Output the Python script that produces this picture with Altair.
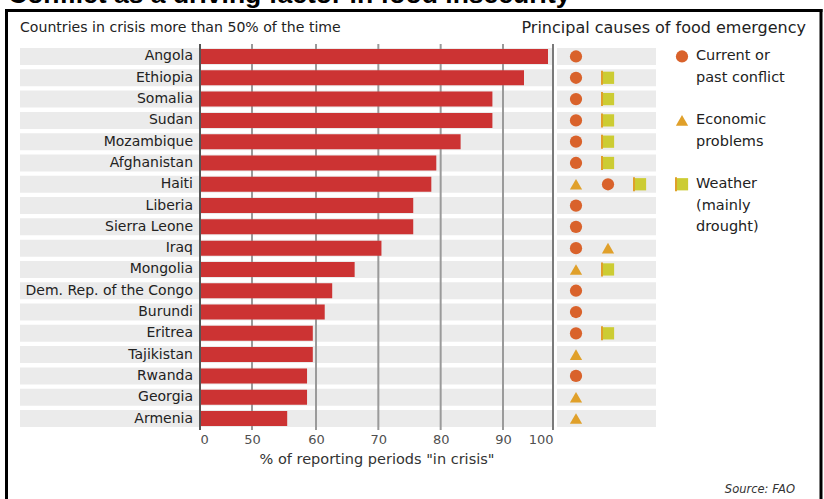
import altair as alt
import pandas as pd

countries = ["Angola", "Ethiopia", "Somalia", "Sudan", "Mozambique", "Afghanistan",
             "Haiti", "Liberia", "Sierra Leone", "Iraq", "Mongolia",
             "Dem. Rep. of the Congo", "Burundi", "Eritrea", "Tajikistan",
             "Rwanda", "Georgia", "Armenia"]
pct_in_crisis = [99.0, 94.2, 88.3, 88.3, 83.2, 79.3, 78.5, 75.6, 75.6, 70.5, 66.2,
                 62.6, 61.4, 59.5, 59.5, 58.6, 58.6, 55.5]
causes = [["conflict"], ["conflict", "weather"], ["conflict", "weather"],
          ["conflict", "weather"], ["conflict", "weather"], ["conflict", "weather"],
          ["economic", "conflict", "weather"], ["conflict"], ["conflict"],
          ["conflict", "economic"], ["economic", "weather"], ["conflict"], ["conflict"],
          ["conflict", "weather"], ["economic"], ["conflict"], ["economic"], ["economic"]]
tick_values = [0, 50, 60, 70, 80, 90, 100]
grid_values = [50, 60, 70, 80, 90]
cause_names = ["conflict", "economic", "weather"]
legend_rows = ["Angola", "Sudan", "Haiti"]
legend_lines = [("Angola", "Current or"), ("Ethiopia", "past conflict"),
                ("Sudan", "Economic"), ("Mozambique", "problems"),
                ("Haiti", "Weather"), ("Liberia", "(mainly"), ("Sierra Leone", "drought)")]

FONT = "DejaVu Sans"
RED = "#cc3333"
SHAPE_COLORS = ["#d9622b", "#e0a02a", "#cccc33"]

bars_df = pd.DataFrame({"country": countries, "pct": pct_in_crisis})
cause_rows = []
for c, lst in zip(countries, causes):
    for i, cause in enumerate(lst):
        cause_rows.append({"country": c, "cause": cause, "col": i + 1})
cause_df = pd.DataFrame(cause_rows)
grid_df = pd.DataFrame({"pct": grid_values})
leg_sym_df = pd.DataFrame({"country": legend_rows, "cause": cause_names})
leg_txt_df = pd.DataFrame(legend_lines, columns=["country", "text"])

y_enc = alt.Y("country:N", sort=countries, axis=None,
              scale=alt.Scale(range=[45.85, 429.15], paddingInner=0.2, paddingOuter=0.1))
x_scale = alt.Scale(domain=[0, 50, 60, 90, 100], range=[200, 252, 316, 503, 553])
shape_scale = alt.Scale(domain=cause_names, range=["circle", "triangle-up", "square"])
color_scale = alt.Scale(domain=cause_names, range=SHAPE_COLORS)

base = alt.Chart(bars_df)

bg_left = base.mark_bar(color="#ebebeb", size=17).encode(
    y=y_enc, x=alt.value(20), x2=alt.value(553))
bg_right = base.mark_bar(color="#ebebeb", size=17).encode(
    y=y_enc, x=alt.value(557), x2=alt.value(656))

x_axis = alt.Axis(values=tick_values, grid=False, domain=False, ticks=False,
                  labelFont=FONT, labelFontSize=13, labelColor="#505050",
                  labelPadding=3, title='% of reporting periods "in crisis"',
                  titleFont=FONT, titleFontSize=14.5, titleFontWeight="normal",
                  titleColor="#333", titlePadding=6)

grid = alt.Chart(grid_df).mark_rule(color="#9a9a9a", strokeWidth=2).encode(
    x=alt.X("pct:Q", scale=x_scale, axis=x_axis), y=alt.value(44), y2=alt.value(430))

bars = base.mark_bar(color=RED, size=15).encode(
    y=y_enc, x=alt.X("pct:Q", scale=x_scale, axis=x_axis))

zero_line = alt.Chart(pd.DataFrame({"pct": [0]})).mark_rule(color="#555", strokeWidth=2).encode(
    x=alt.X("pct:Q", scale=x_scale, axis=x_axis), y=alt.value(44), y2=alt.value(430))
hundred_line = alt.Chart(pd.DataFrame({"pct": [100]})).mark_rule(color="#7a7a7a", strokeWidth=2).encode(
    x=alt.X("pct:Q", scale=x_scale, axis=x_axis), y=alt.value(44), y2=alt.value(430))

bar_part = alt.layer(grid, bars, zero_line, hundred_line)

col_scale = alt.Scale(domain=[1, 3], range=[576, 640])
symbols = alt.Chart(cause_df).mark_point(filled=True, size=150, opacity=1).encode(
    y=y_enc,
    x=alt.X("col:Q", scale=col_scale, axis=None),
    shape=alt.Shape("cause:N", scale=shape_scale, legend=None),
    color=alt.Color("cause:N", scale=color_scale, legend=None),
)
stripes = alt.Chart(cause_df).transform_filter(alt.datum.cause == "weather").mark_tick(
    orient="vertical", thickness=2, size=14, xOffset=-6, color="#e0a02a", opacity=1).encode(
    y=y_enc, x=alt.X("col:Q", scale=col_scale, axis=None))
cause_part = alt.layer(symbols, stripes)

labels = base.mark_text(align="right", baseline="middle", font=FONT, fontSize=14,
                        color="#222").encode(y=y_enc, x=alt.value(193), text="country:N")

leg_sym = alt.Chart(leg_sym_df).mark_point(filled=True, size=150, opacity=1).encode(
    y=y_enc, x=alt.value(682),
    shape=alt.Shape("cause:N", scale=shape_scale, legend=None),
    color=alt.Color("cause:N", scale=color_scale, legend=None),
)
leg_stripe = alt.Chart(leg_sym_df).transform_filter(alt.datum.cause == "weather").mark_tick(
    orient="vertical", thickness=2, size=14, xOffset=-6, color="#e0a02a", opacity=1).encode(
    y=y_enc, x=alt.value(682))
leg_txt = alt.Chart(leg_txt_df).mark_text(align="left", baseline="middle", font=FONT,
                                          fontSize=14.5, color="#222").encode(
    y=y_enc, x=alt.value(696), text="text:N")

def text_at(s, x, y, **kw):
    return alt.Chart(pd.DataFrame({"t": [s]})).mark_text(**kw).encode(
        x=alt.value(x), y=alt.value(y), text="t:N")

title = text_at("Conflict as a driving factor in food insecurity", 8, 3,
                align="left", baseline="alphabetic", font="Liberation Sans",
                fontSize=26.5, fontWeight="bold", color="#000")
head_left = text_at("Countries in crisis more than 50% of the time", 20, 28,
                    align="left", baseline="middle", font=FONT, fontSize=14.1, color="#222")
head_right = text_at("Principal causes of food emergency", 806, 28,
                     align="right", baseline="middle", font=FONT, fontSize=16, color="#222")
source = text_at("Source: FAO", 795, 490, align="right", baseline="middle", font=FONT,
                 fontSize=11.5, fontStyle="italic", color="#333")

one = pd.DataFrame({"t": [0]})
frame_left = alt.Chart(one).mark_rule(color="#000", strokeWidth=3).encode(
    x=alt.value(6.5), y=alt.value(9), y2=alt.value(499))
frame_right = alt.Chart(one).mark_rule(color="#000", strokeWidth=3).encode(
    x=alt.value(821), y=alt.value(9), y2=alt.value(499))
frame_top = alt.Chart(one).mark_rule(color="#000", strokeWidth=3).encode(
    x=alt.value(5), x2=alt.value(822.5), y=alt.value(10.5))

chart = alt.layer(
    bg_left, bg_right, bar_part, labels, cause_part,
    leg_sym, leg_stripe, leg_txt,
    title, head_left, head_right, source, frame_left, frame_right, frame_top,
).resolve_scale(x="independent").properties(
    width=824, height=430, autosize="none", background="white",
    padding={"left": 0, "top": 0, "right": 0, "bottom": 69},
).configure_view(stroke=None, strokeWidth=0).configure_axis(
    domain=False, ticks=False, grid=False)

chart.save("out.html", embed_options={"renderer": "svg", "actions": False})
